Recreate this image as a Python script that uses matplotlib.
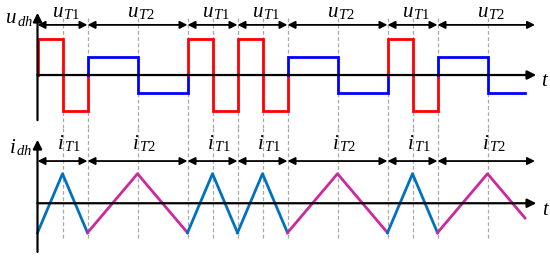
import matplotlib.pyplot as plt

plt.rcParams['mathtext.fontset'] = 'custom'
plt.rcParams['mathtext.rm'] = 'Liberation Serif'
plt.rcParams['mathtext.it'] = 'Liberation Serif:italic'

# switching sequence and its half-periods
modes = ['T1', 'T2', 'T1', 'T1', 'T2', 'T1', 'T2']
half = {'T1': 1, 'T2': 2}
u_amp = {'T1': 1.0, 'T2': 0.5}
i_amp = 1.0
t_end = 19.5

u_col = {'T1': '#FF0000', 'T2': '#0000FF'}
i_col = {'T1': '#0070C0', 'T2': '#CC2A9C'}
grid_col = '#A8A8A8'

fig = plt.figure(figsize=(5.5, 2.59), dpi=100)
ax1 = fig.add_axes([0, 1 - 128 / 259, 1, 128 / 259])
ax2 = fig.add_axes([0, 0, 1, 131 / 259])
for ax in (ax1, ax2):
    ax.set_xlim(-1.5, 20.5)
    ax.axis('off')
ax1.set_ylim(-1.49, 2.11)
ax2.set_ylim(-1.89, 2.55)

fs = 15
fs_sub = 10.5


def label(ax, x, y, main, sub):
    # big italic letter with a large subscript, split at x
    ax.annotate('$%s$' % main, xy=(x, y), xytext=(0.5, 0),
                textcoords='offset points', ha='right', va='baseline',
                fontsize=fs)
    ax.annotate('$%s$' % sub, xy=(x, y), xytext=(0.5, -1.5),
                textcoords='offset points', ha='left', va='baseline',
                fontsize=fs_sub)


arr = dict(arrowstyle='<|-|>', color='black', lw=1.3, mutation_scale=11,
           shrinkA=0, shrinkB=0)

s = 0
for m in modes:
    h = half[m]
    mid, e = s + h, s + 2 * h
    # top: square wave, from zero to level and back
    a = u_amp[m]
    ux = [s, s, mid, mid, e, e]
    uy = [0, a, a, -a, -a, 0]
    # bottom: triangle
    ix = [s, mid, e]
    iy = [-i_amp, i_amp, -i_amp]
    if e > t_end:
        ux = ux[:4] + [t_end]
        uy = uy[:4] + [-a]
        ix = [s, mid, t_end]
        iy = [-i_amp, i_amp, i_amp - 2 * i_amp * (t_end - mid) / h]
    ax1.plot(ux, uy, color=u_col[m], lw=2, zorder=3, solid_joinstyle='miter')
    ax2.plot(ix, iy, color=i_col[m], lw=2, zorder=3)
    # dashed guides
    for xv in (mid, e):
        if xv < t_end:
            ax1.plot([xv, xv], [-1.49, 1.6], ls=(0, (3, 2)), color=grid_col,
                     lw=0.9, zorder=1)
            ax2.plot([xv, xv], [-1.18, 2.55], ls=(0, (3, 2)), color=grid_col,
                     lw=0.9, zorder=1)
    # interval arrows and labels
    e_arr = min(e, 19.9)
    ax1.annotate('', xy=(e_arr, 1.41), xytext=(s, 1.41), arrowprops=arr)
    ax2.annotate('', xy=(e_arr, 1.43), xytext=(s, 1.43), arrowprops=arr)
    label(ax1, mid, 1.63, 'u', m)
    label(ax2, mid + 0.05, 1.84, 'i', m)
    s = e

# coordinate axes
ax_arr = dict(arrowstyle='-|>', color='black', lw=1.6, mutation_scale=13,
              shrinkA=0, shrinkB=0)
ax1.annotate('', xy=(0, 1.75), xytext=(0, -1.27), arrowprops=ax_arr)
ax1.annotate('', xy=(19.95, 0), xytext=(0, 0), arrowprops=ax_arr)
ax2.annotate('', xy=(0, 2.15), xytext=(0, -1.65), arrowprops=ax_arr)
ax2.annotate('', xy=(19.95, 0), xytext=(0, 0), arrowprops=ax_arr)

label(ax1, -0.85, 1.45, 'u', 'dh')
label(ax2, -0.9, 1.7, 'i', 'dh')
ax1.text(20.15, -0.14, '$t$', ha='left', va='center', fontsize=fs)
ax2.text(20.2, -0.18, '$t$', ha='left', va='center', fontsize=fs)

plt.savefig('out.png', dpi=100)
